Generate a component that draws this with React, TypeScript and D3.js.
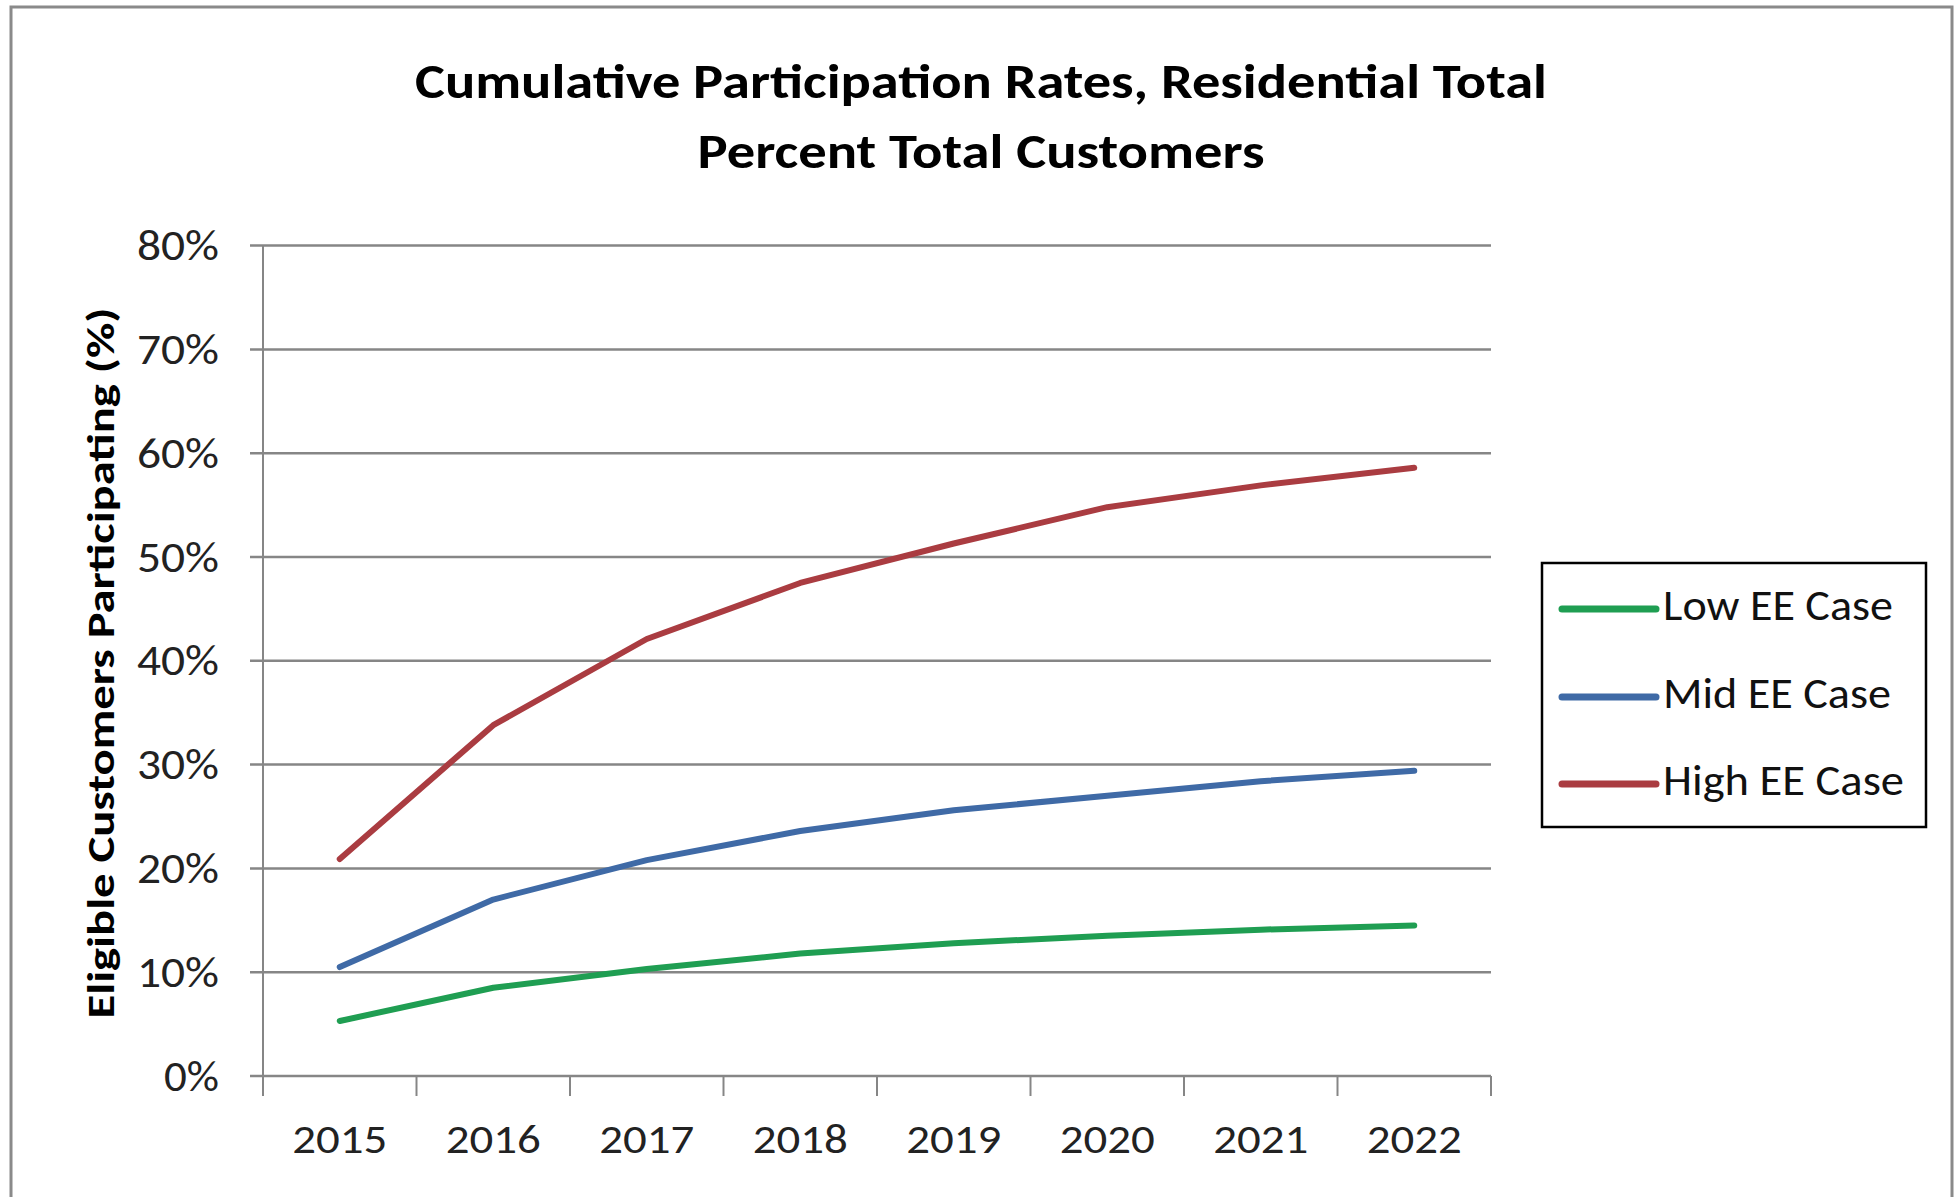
import React from "react";
import * as d3 from "d3";

const years = ["2015", "2016", "2017", "2018", "2019", "2020", "2021", "2022"];
const lowEE = [0.053, 0.085, 0.103, 0.118, 0.128, 0.135, 0.141, 0.145];
const midEE = [0.105, 0.17, 0.208, 0.236, 0.256, 0.27, 0.284, 0.294];
const highEE = [0.209, 0.338, 0.421, 0.475, 0.513, 0.548, 0.569, 0.586];
const yTicks = [0, 0.1, 0.2, 0.3, 0.4, 0.5, 0.6, 0.7, 0.8];
const seriesNames = ["Low EE Case", "Mid EE Case", "High EE Case"];
const seriesColors = ["#1F9E52", "#3F6AA6", "#AA3C41"];
const titleLines = ["Cumulative Participation Rates, Residential Total", "Percent Total Customers"];
const yTitle = "Eligible Customers Participating (%)";

const W = 1955;
const H = 1197;
const FONT = "Carlito, Lato, 'Open Sans', sans-serif";

export default function App() {
  const x = d3.scaleBand<string>().domain(years).range([263, 1491]).padding(0);
  const y = d3.scaleLinear().domain([0, 0.8]).range([1076, 245.6]);
  const cx = (yr: string) => (x(yr) as number) + x.bandwidth() / 2;
  const line = d3
    .line<number>()
    .x((_, i) => cx(years[i]))
    .y((v) => y(v));
  const series = [lowEE, midEE, highEE];
  const gridColor = "#868686";
  const tickXs = [...years.map((yr) => x(yr) as number), 1491];
  const legendYs = [609, 697, 784];
  const legendLens = [230, 228, 241];

  return (
    <div style={{ position: "absolute", left: 0, top: 0 }}>
      <svg width={W} height={H} style={{ display: "block" }}>
        <rect x={0} y={0} width={W} height={H} fill="#fff" />
        {/* outer border */}
        <path d={`M11,${H + 5} L11,7 L1952,7 L1952,${H + 5}`} fill="none" stroke="#8a8a8a" strokeWidth={3} />
        {/* title */}
        {titleLines.map((t, i) => (
          <text
            key={t}
            x={981}
            y={98 + i * 70}
            textAnchor="middle"
            fontFamily={FONT}
            fontWeight="bold"
            fontSize={49}
            textLength={i === 0 ? 1132 : 567}
            lengthAdjust="spacingAndGlyphs"
            fill="#000"
          >
            {t}
          </text>
        ))}
        {/* gridlines */}
        {yTicks.map((t) => (
          <line key={t} x1={250} x2={1491} y1={y(t)} y2={y(t)} stroke={gridColor} strokeWidth={2.5} />
        ))}
        {/* y axis */}
        <line x1={263} x2={263} y1={y(0.8)} y2={y(0)} stroke={gridColor} strokeWidth={2} />
        {/* x ticks */}
        {tickXs.map((tx, i) => (
          <line key={i} x1={tx} x2={tx} y1={y(0)} y2={y(0) + 20} stroke={gridColor} strokeWidth={2} />
        ))}
        {/* y tick labels */}
        {yTicks.map((t) => {
          const label = d3.format(".0%")(t);
          return (
            <text
              key={t}
              x={219}
              y={y(t)}
              textAnchor="end"
              dominantBaseline="central"
              fontFamily={FONT}
              fontSize={43}
              textLength={label.length === 2 ? 55 : 82}
              lengthAdjust="spacingAndGlyphs"
              fill="#222"
            >
              {label}
            </text>
          );
        })}
        {/* x tick labels */}
        {years.map((yr) => (
          <text
            key={yr}
            x={cx(yr)}
            y={1153}
            textAnchor="middle"
            fontFamily={FONT}
            fontSize={42}
            textLength={95}
            lengthAdjust="spacingAndGlyphs"
            fill="#222"
          >
            {yr}
          </text>
        ))}
        {/* y title */}
        <text
          transform={`translate(114,663) rotate(-90)`}
          textAnchor="middle"
          fontFamily={FONT}
          fontWeight="bold"
          fontSize={38}
          textLength={711}
          lengthAdjust="spacingAndGlyphs"
          fill="#000"
        >
          {yTitle}
        </text>
        {/* series lines */}
        {series.map((s, i) => (
          <path
            key={seriesNames[i]}
            d={line(s) as string}
            fill="none"
            stroke={seriesColors[i]}
            strokeWidth={6}
            strokeLinejoin="round"
            strokeLinecap="round"
          />
        ))}
        {/* legend */}
        <rect x={1542} y={563} width={384} height={264} fill="#fff" stroke="#000" strokeWidth={2.5} />
        {seriesNames.map((n, i) => (
          <g key={n}>
            <line x1={1562} x2={1656} y1={legendYs[i]} y2={legendYs[i]} stroke={seriesColors[i]} strokeWidth={7} strokeLinecap="round" />
            <text
              x={1663}
              y={legendYs[i] - 4}
              dominantBaseline="central"
              fontFamily={FONT}
              fontSize={43}
              textLength={legendLens[i]}
              lengthAdjust="spacingAndGlyphs"
              fill="#111"
            >
              {n}
            </text>
          </g>
        ))}
      </svg>
    </div>
  );
}
